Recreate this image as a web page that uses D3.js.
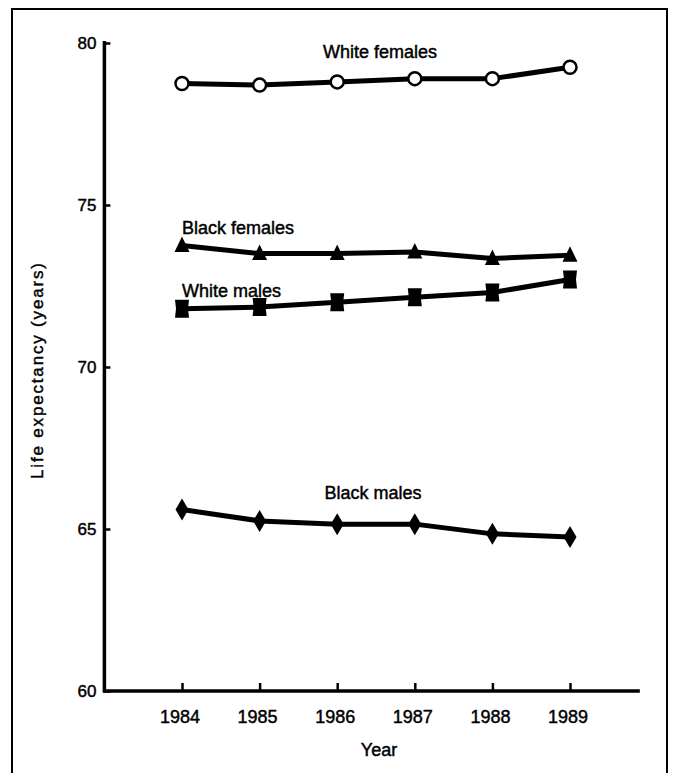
<!DOCTYPE html>
<html>
<head>
<meta charset="utf-8">
<script src="https://cdn.jsdelivr.net/npm/d3@7"></script>
<style>
  body { margin: 0; background: #fff; }
  svg text { font-family: "Liberation Sans", Arial, Helvetica, sans-serif; fill: #000; stroke: #000; stroke-width: 0.45px; }
</style>
</head>
<body>
<svg id="chart" width="675" height="773"></svg>
<script>
	var years = [1984, 1985, 1986, 1987, 1988, 1989];
	var yTicks = [60, 65, 70, 75, 80];

	var whiteFemales = [78.75, 78.7, 78.8, 78.9, 78.9, 79.25];
	var blackFemales = [73.75, 73.5, 73.5, 73.55, 73.35, 73.45];
	var whiteMales = [71.8, 71.85, 72.0, 72.15, 72.3, 72.7];
	var blackMales = [65.6, 65.25, 65.15, 65.15, 64.85, 64.75];

	var svg = d3.select("#chart");

	var x = d3.scaleLinear().domain([1984, 1989]).range([182, 570]);
	var y = d3.scaleLinear().domain([60, 80]).range([691, 43]);

	// outer frame
	svg.append("rect")
	.attr("x", 12).attr("y", 9)
	.attr("width", 655).attr("height", 820)
	.attr("fill", "none")
	.attr("stroke", "#000")
	.attr("stroke-width", 2);

	// axes
	var yAxis = d3.axisRight(y)
	.tickValues(yTicks)
	.tickSize(6)
	.tickFormat("");

	svg.append("g")
	.attr("transform", "translate(" + x(1983) + ",0)")
	.call(yAxis)
	.call(function(g) {
		g.select(".domain").remove();
		g.selectAll(".tick line").attr("stroke", "#000").attr("stroke-width", 2.5);
	});

	var xAxis = d3.axisTop(x)
	.tickValues(years)
	.tickSize(8)
	.tickFormat("");

	svg.append("g")
	.attr("transform", "translate(0," + y(60) + ")")
	.call(xAxis)
	.call(function(g) {
		g.select(".domain").remove();
		g.selectAll(".tick line").attr("stroke", "#000").attr("stroke-width", 2.5);
	});

	// axis lines
	svg.append("line")
	.attr("x1", x(1983)).attr("x2", x(1983))
	.attr("y1", y(80) - 2).attr("y2", y(60) + 1.5)
	.attr("stroke", "#000").attr("stroke-width", 3.5);

	svg.append("line")
	.attr("x1", x(1983) - 1.5).attr("x2", x(1989.9))
	.attr("y1", y(60)).attr("y2", y(60))
	.attr("stroke", "#000").attr("stroke-width", 3.5);

	// tick labels
	svg.append("g").selectAll("text")
	.data(yTicks)
	.enter().append("text")
	.attr("x", x(1983) - 8)
	.attr("y", function(d) { return y(d); })
	.attr("dy", "0.35em")
	.attr("text-anchor", "end")
	.attr("font-size", 17)
	.text(function(d) { return d; });

	svg.append("g").selectAll("text")
	.data(years)
	.enter().append("text")
	.attr("x", function(d) { return x(d) - 2; })
	.attr("y", y(60) + 32)
	.attr("text-anchor", "middle")
	.attr("font-size", 18)
	.text(function(d) { return d; });

	svg.append("text")
	.attr("x", x(1986.5) + 3)
	.attr("y", y(60) + 65)
	.attr("text-anchor", "middle")
	.attr("font-size", 18)
	.text("Year");

	svg.append("text")
	.attr("transform", "translate(43," + 371 + ") rotate(-90)")
	.attr("text-anchor", "middle")
	.attr("font-size", 17)
	.attr("textLength", 216)
	.attr("lengthAdjust", "spacing")
	.text("Life expectancy (years)");

	// series
	var line = d3.line()
	.x(function(d, i) { return x(years[i]); })
	.y(function(d) { return y(d); });

	function drawLine(values) {
		svg.append("path")
		.datum(values)
		.attr("d", line)
		.attr("fill", "none")
		.attr("stroke", "#000")
		.attr("stroke-width", 5)
		.attr("stroke-linejoin", "round");
	}

	drawLine(whiteFemales);
	drawLine(blackFemales);
	drawLine(whiteMales);
	drawLine(blackMales);

	// markers
	svg.append("g").selectAll("circle")
	.data(whiteFemales)
	.enter().append("circle")
	.attr("cx", function(d, i) { return x(years[i]); })
	.attr("cy", function(d) { return y(d); })
	.attr("r", 6.5)
	.attr("fill", "#fff")
	.attr("stroke", "#000")
	.attr("stroke-width", 2.5);

	svg.append("g").selectAll("path")
	.data(blackFemales)
	.enter().append("path")
	.attr("transform", function(d, i) { return "translate(" + x(years[i]) + "," + y(d) + ")"; })
	.attr("d", "M0,-9L7.5,6.5L-7.5,6.5Z")
	.attr("fill", "#000");

	svg.append("g").selectAll("path")
	.data(whiteMales)
	.enter().append("path")
	.attr("transform", function(d, i) { return "translate(" + x(years[i]) + "," + y(d) + ")"; })
	.attr("d", "M-7,-9L7,-9L6,0L7,9L-7,9L-6,0Z")
	.attr("fill", "#000");

	svg.append("g").selectAll("path")
	.data(blackMales)
	.enter().append("path")
	.attr("transform", function(d, i) { return "translate(" + x(years[i]) + "," + y(d) + ")"; })
	.attr("d", "M0,-11L6.5,0L0,11L-6.5,0Z")
	.attr("fill", "#000");

	// series labels
	svg.append("text")
	.attr("x", x(1986.5) + 4)
	.attr("y", y(80) + 15)
	.attr("text-anchor", "middle")
	.attr("font-size", 18)
	.text("White females");

	svg.append("text")
	.attr("x", x(1984))
	.attr("y", y(blackFemales[0]) - 12)
	.attr("font-size", 18)
	.text("Black females");

	svg.append("text")
	.attr("x", x(1984))
	.attr("y", y(whiteMales[0]) - 12)
	.attr("font-size", 18)
	.text("White males");

	svg.append("text")
	.attr("x", x(1986.5) - 3)
	.attr("y", y(blackMales[0]) - 11)
	.attr("text-anchor", "middle")
	.attr("font-size", 18)
	.text("Black males");
</script>
</body>
</html>
